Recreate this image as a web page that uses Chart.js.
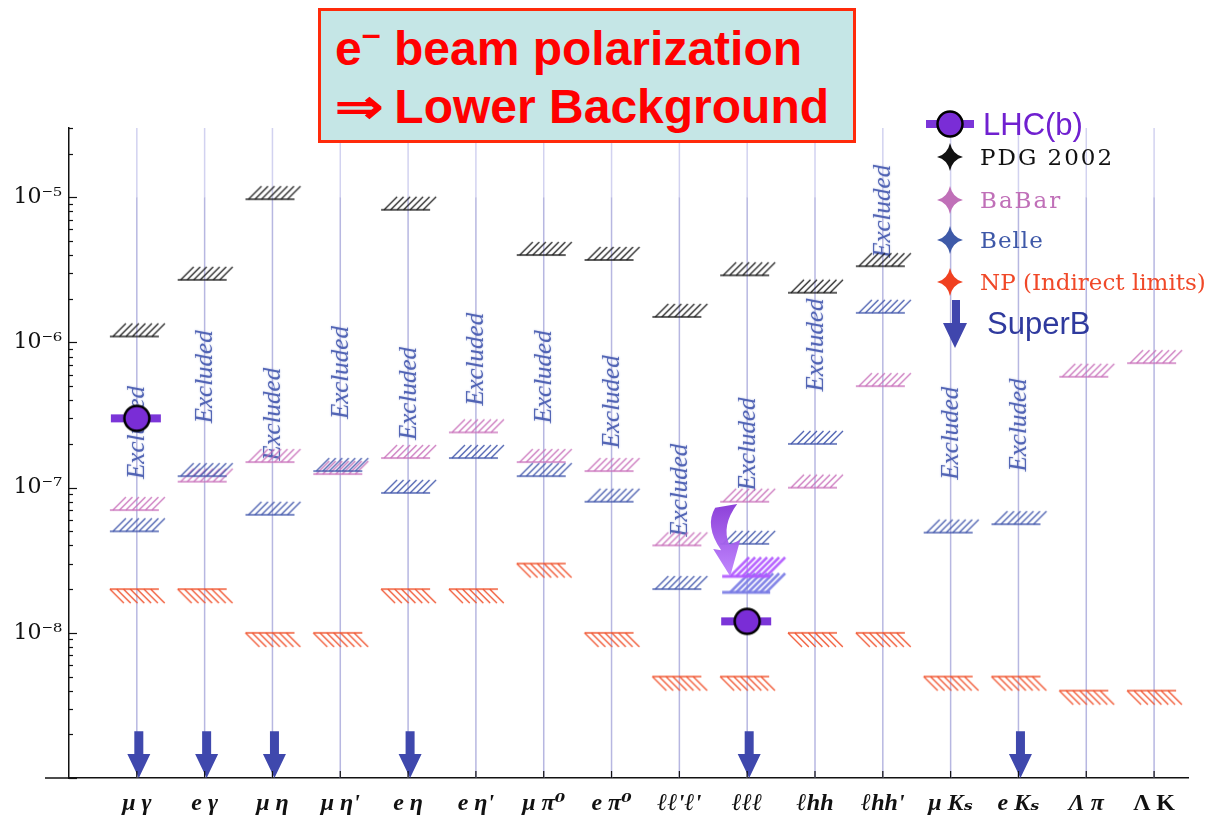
<!DOCTYPE html>
<html>
<head>
<meta charset="utf-8">
<title>LFV tau decays: limits and projections</title>
<script src="https://cdn.jsdelivr.net/npm/chart.js@4.4.1/dist/chart.umd.min.js"></script>
<style>
  body { margin:0; background:#fff; }
  #wrap { position:relative; width:1216px; height:828px; overflow:hidden; }
  #chart { position:absolute; left:0; top:0; }
  #note {
    position:absolute; left:318px; top:8px; width:532px; height:129px;
    background:#c5e6e6; border:3px solid #ff2a0a;
    font:bold 48px "Liberation Sans", Arial, sans-serif; color:#ff0000;
  }
  #note div { position:absolute; left:14px; white-space:nowrap; line-height:48px; }
  #note .sup { position:relative; top:-20px; font-size:34px; }
  #note .arr { display:inline-block; margin-right:6px; transform:scaleX(1.2); transform-origin:left center; }
  #keys { position:absolute; left:0; top:0; pointer-events:none; }
  .key { position:absolute; white-space:nowrap; }
  .sans { font:31px/31px "Liberation Sans", Arial, sans-serif; }
  .cal  { font:23px/23px "DejaVu Serif", serif; }
</style>
</head>
<body>
<div id="wrap">
  <canvas id="chart" width="1216" height="828"></canvas>
  <div id="note">
    <div style="top:14px">e<span class="sup">–</span> beam polarization</div>
    <div style="top:72px"><span class="arr">⇒</span> Lower Background</div>
  </div>
  <svg id="keys" width="1216" height="828">
    <rect x="926" y="120" width="48" height="8" fill="#7b35d8"/>
    <circle cx="950" cy="124" r="12.5" fill="#7a2dd6" stroke="#000" stroke-width="2.5"/>
    <path transform="translate(950,157)" d="M0,-14 Q2.5,-2.5 13,0 Q2.5,2.5 0,14 Q-2.5,2.5 -13,0 Q-2.5,-2.5 0,-14Z" fill="#111"/>
    <path transform="translate(950,200)" d="M0,-14 Q2.5,-2.5 13,0 Q2.5,2.5 0,14 Q-2.5,2.5 -13,0 Q-2.5,-2.5 0,-14Z" fill="#c070b8"/>
    <path transform="translate(950,240)" d="M0,-14 Q2.5,-2.5 13,0 Q2.5,2.5 0,14 Q-2.5,2.5 -13,0 Q-2.5,-2.5 0,-14Z" fill="#3e5aa8"/>
    <path transform="translate(950,282)" d="M0,-14 Q2.5,-2.5 13,0 Q2.5,2.5 0,14 Q-2.5,2.5 -13,0 Q-2.5,-2.5 0,-14Z" fill="#f04020"/>
    <polygon points="952,300 960,300 960,323 967,323 955,348 943,323 952,323" fill="#4046ad"/>
  </svg>
  <div class="key sans" style="left:983px;top:109px;color:#7020d0">LHC(b)</div>
  <div class="key cal" style="left:980px;top:146px;color:#111;letter-spacing:2px">PDG 2002</div>
  <div class="key cal" style="left:980px;top:189px;color:#c070b8;letter-spacing:2px">BaBar</div>
  <div class="key cal" style="left:980px;top:229px;color:#3e58a8;letter-spacing:1px">Belle</div>
  <div class="key cal" style="left:980px;top:271px;color:#f04828">NP (Indirect limits)</div>
  <div class="key sans" style="left:987px;top:308px;color:#2f3a9e">SuperB</div>
</div>

<script>
// decay channels along the x axis
const categories = ["μ γ", "e γ", "μ η", "μ η'", "e η", "e η'", "μ π⁰", "e π⁰",
                    "ℓℓ'ℓ'", "ℓℓℓ", "ℓhh", "ℓhh'", "μ Kₛ", "e Kₛ", "Λ π", "Λ K"];

// upper limits on the branching fraction (null = none shown)
const pdg2002    = [1.1e-6, 2.7e-6, 9.7e-6, null, 8.2e-6, null, 4.0e-6, 3.7e-6,
                    1.5e-6, 2.9e-6, 2.2e-6, 3.35e-6, null, null, null, null];
const babar      = [7.0e-8, 1.1e-7, 1.5e-7, 1.24e-7, 1.6e-7, 2.4e-7, 1.5e-7, 1.3e-7,
                    4.0e-8, 8.0e-8, 1.0e-7, 5.0e-7, null, null, 5.8e-7, 7.2e-7];
const belle      = [5.0e-8, 1.2e-7, 6.5e-8, 1.3e-7, 9.2e-8, 1.6e-7, 1.2e-7, 8.0e-8,
                    2.0e-8, 4.1e-8, 2.0e-7, 1.6e-6, 4.9e-8, 5.6e-8, null, null];
const npIndirect = [2e-8, 2e-8, 1e-8, 1e-8, 2e-8, 2e-8, 3e-8, 1e-8,
                    5e-9, 5e-9, 1e-8, 1e-8, 5e-9, 5e-9, 4e-9, 4e-9];
const lhcb       = [3.0e-7, null, null, null, null, null, null, null,
                    null, 1.2e-8, null, null, null, null, null, null];
// polarized-beam improvement for the 3-lepton mode
const lllPolA    = [null, null, null, null, null, null, null, null,
                    null, 2.45e-8, null, null, null, null, null, null];
const lllPolB    = [null, null, null, null, null, null, null, null,
                    null, 1.9e-8, null, null, null, null, null, null];
const lllShift   = { col: 9, from: 7.7e-8, to: 2.45e-8 };

// SuperB reach: arrows into the bottom of the plot
const superbCols = [0, 1, 2, 4, 9, 13];
const superbTop  = 2.1e-9;

// where the "Excluded" tag sits in each column
const excludedAt = [2.4e-7, 5.8e-7, 3.2e-7, 6.2e-7, 4.45e-7, 7.65e-7, 5.8e-7, 3.9e-7,
                    9.6e-8, 2.0e-7, 9.6e-7, 8.0e-6, 2.37e-7, 2.7e-7, null, null];

const yMin = 1e-9, yMax = 3e-5;
const labelledDecades = [-8, -7, -6, -5];

const SUP = {"-":"⁻","0":"⁰","1":"¹","2":"²","3":"³","4":"⁴","5":"⁵","6":"⁶","7":"⁷","8":"⁸","9":"⁹"};
function sup(n){ return String(n).split("").map(c => SUP[c]).join(""); }

function points(values){
  return values.map((v,i) => v == null ? null : {x:i, y:v}).filter(Boolean);
}

// limit bar with hatching: dir 1 = hatch above (upper limit), -1 = below
function hatchMark(color, dir, o){
  o = Object.assign({left:27, right:22, h:13, n:7, step:6.5, start:-24, lw:1.4, base:1.6}, o);
  const c = document.createElement("canvas");
  c.width = 90; c.height = 56;
  const g = c.getContext("2d");
  g.translate(45, 28);
  g.strokeStyle = color;
  g.lineWidth = o.base;
  g.beginPath(); g.moveTo(-o.left, 0); g.lineTo(o.right, 0); g.stroke();
  g.lineWidth = o.lw;
  g.beginPath();
  for (let k = 0; k < o.n; k++){
    const x0 = o.start + k*o.step;
    g.moveTo(x0, 0); g.lineTo(x0 + o.h, -dir*o.h);
  }
  g.stroke();
  return c;
}

function lhcbMark(){
  const c = document.createElement("canvas");
  c.width = 64; c.height = 40;
  const g = c.getContext("2d");
  g.translate(32, 20);
  g.fillStyle = "#7b35d8";
  g.fillRect(-26, -4, 50, 8);
  g.beginPath(); g.arc(0, 0, 12.5, 0, Math.PI*2);
  g.fillStyle = "#7a2dd6"; g.fill();
  g.lineWidth = 2.5; g.strokeStyle = "#000"; g.stroke();
  return c;
}

const upperA = {left:25, right:23, h:19, n:7, step:6, start:-17, lw:2.6, base:3};

function ds(label, values, style){
  return { label, data: points(values), pointStyle: style, pointRadius: 3, showLine:false };
}

const columnsPlugin = {
  id: "columns",
  beforeDatasetsDraw(chart){
    const {ctx, chartArea:a, scales:{x, y}} = chart;
    const y5 = y.getPixelForValue(1e-5);
    ctx.save();
    categories.forEach((_, i) => {
      const px = x.getPixelForValue(i);
      ctx.lineWidth = 1.5;
      ctx.strokeStyle = "rgba(205,205,238,0.9)";
      ctx.beginPath(); ctx.moveTo(px, a.top); ctx.lineTo(px, y5); ctx.stroke();
      ctx.strokeStyle = "rgba(170,170,220,0.85)";
      ctx.beginPath(); ctx.moveTo(px, y5); ctx.lineTo(px, a.bottom); ctx.stroke();
    });
    ctx.font = 'italic 25px "Liberation Serif", serif';
    ctx.fillStyle = "rgba(70,90,175,0.9)";
    ctx.shadowColor = "rgba(90,110,190,0.55)";
    ctx.shadowBlur = 2;
    ctx.textAlign = "center";
    ctx.textBaseline = "middle";
    excludedAt.forEach((v, i) => {
      if (v == null) return;
      ctx.save();
      ctx.translate(x.getPixelForValue(i) + 1, y.getPixelForValue(v));
      ctx.rotate(-Math.PI/2);
      ctx.fillText("Excluded", 0, 0);
      ctx.restore();
    });
    ctx.restore();
  },
  afterDatasetsDraw(chart){
    const {ctx, chartArea:a, scales:{x, y}} = chart;
    ctx.save();
    // SuperB arrows
    ctx.fillStyle = "#3f48ad";
    superbCols.forEach(i => {
      const px = x.getPixelForValue(i) + 2;
      const tip = y.getPixelForValue(yMin);
      const top = y.getPixelForValue(superbTop);
      const head = tip - 24;
      ctx.beginPath();
      ctx.moveTo(px - 4.5, top); ctx.lineTo(px + 4.5, top);
      ctx.lineTo(px + 4.5, head); ctx.lineTo(px + 11.5, head);
      ctx.lineTo(px, tip); ctx.lineTo(px - 11.5, head);
      ctx.lineTo(px - 4.5, head); ctx.closePath(); ctx.fill();
    });
    // curved arrow for the 3-lepton improvement
    const cx = x.getPixelForValue(lllShift.col);
    const y0 = y.getPixelForValue(lllShift.from), h = y.getPixelForValue(lllShift.to) - y0;
    const f = t => y0 + t*h;
    const grad = ctx.createLinearGradient(0, y0, 0, y0 + h);
    grad.addColorStop(0, "rgba(135,55,215,0.95)");
    grad.addColorStop(1, "rgba(190,130,255,0.95)");
    ctx.fillStyle = grad;
    ctx.beginPath();
    ctx.moveTo(cx - 32, f(0.05));
    ctx.lineTo(cx - 10, f(0));
    ctx.quadraticCurveTo(cx - 26, f(0.3), cx - 18, f(0.56));
    ctx.lineTo(cx - 7, f(0.5));
    ctx.lineTo(cx - 17, f(1));
    ctx.lineTo(cx - 34, f(0.62));
    ctx.lineTo(cx - 26, f(0.64));
    ctx.quadraticCurveTo(cx - 43, f(0.3), cx - 32, f(0.05));
    ctx.closePath(); ctx.fill();

    // inward tick marks and the left stub of the x axis
    ctx.strokeStyle = "#111";
    ctx.lineWidth = 1.2;
    y.ticks.forEach(t => {
      const py = Math.round(y.getPixelForValue(t.value)) + 0.5;
      const e = Math.log10(t.value);
      const len = Math.abs(e - Math.round(e)) < 1e-9 ? 8 : 4;
      ctx.beginPath(); ctx.moveTo(a.left, py); ctx.lineTo(a.left + len, py); ctx.stroke();
    });
    x.ticks.forEach(t => {
      const px = x.getPixelForValue(t.value);
      ctx.beginPath(); ctx.moveTo(px, a.bottom); ctx.lineTo(px, a.bottom - 7); ctx.stroke();
    });
    ctx.lineWidth = 1.5;
    ctx.beginPath(); ctx.moveTo(a.left - 24, a.bottom); ctx.lineTo(a.left, a.bottom); ctx.stroke();
    ctx.restore();
  }
};

new Chart(document.getElementById("chart"), {
  type: "scatter",
  data: {
    datasets: [
      ds("LHC(b)", lhcb, lhcbMark()),
      ds("ℓℓℓ polarized A", lllPolA, hatchMark("rgba(176,87,255,0.9)", 1, upperA)),
      ds("ℓℓℓ polarized B", lllPolB, hatchMark("rgba(120,122,228,0.9)", 1, upperA)),
      ds("PDG 2002", pdg2002, hatchMark("rgba(20,20,20,0.9)", 1)),
      ds("Belle", belle, hatchMark("rgba(60,82,170,0.9)", 1)),
      ds("BaBar", babar, hatchMark("rgba(200,110,185,0.9)", 1)),
      ds("NP (Indirect limits)", npIndirect, hatchMark("rgba(240,78,40,0.92)", -1, {start:-27, step:6.8, h:14})),
    ]
  },
  options: {
    responsive: false, animation: false, events: [],
    layout: { padding: { top: 128, right: 28, left: 0, bottom: 0 } },
    plugins: { legend: { display: false }, tooltip: { enabled: false } },
    scales: {
      x: {
        type: "linear", min: -1, max: 15.5,
        afterBuildTicks: s => { s.ticks = categories.map((_, i) => ({ value: i })); },
        afterFit: s => { s.height = 50; },
        grid: { display: false, drawTicks: false },
        border: { display: true, color: "#111", width: 1.5 },
        ticks: {
          autoSkip: false, maxRotation: 0, padding: 11, color: "#111",
          font: c => ({ family: '"Liberation Serif", "DejaVu Serif", serif', size: 24, weight: "bold",
                        style: c.tick && categories[c.tick.value] === "Λ K" ? "normal" : "italic" }),
          callback: v => categories[v] ?? ""
        }
      },
      y: {
        type: "logarithmic", min: yMin, max: yMax,
        afterBuildTicks: s => {
          const t = [];
          for (let e = -9; e <= -5; e++)
            for (let m = 1; m <= 9; m++){
              const v = Number((m * Math.pow(10, e)).toPrecision(3));
              if (v <= yMax) t.push({ value: v });
            }
          s.ticks = t;
        },
        afterFit: s => { s.width = 69; },
        grid: { display: false, drawTicks: false },
        border: { display: true, color: "#111", width: 1.5 },
        ticks: {
          autoSkip: false, padding: 7, color: "#111",
          font: { family: '"DejaVu Serif", serif', size: 22 },
          callback: v => {
            const e = Math.log10(v), r = Math.round(e);
            return Math.abs(e - r) < 1e-9 && labelledDecades.includes(r) ? "10" + sup(r) : "";
          }
        }
      }
    }
  },
  plugins: [columnsPlugin]
});
</script>
</body>
</html>
